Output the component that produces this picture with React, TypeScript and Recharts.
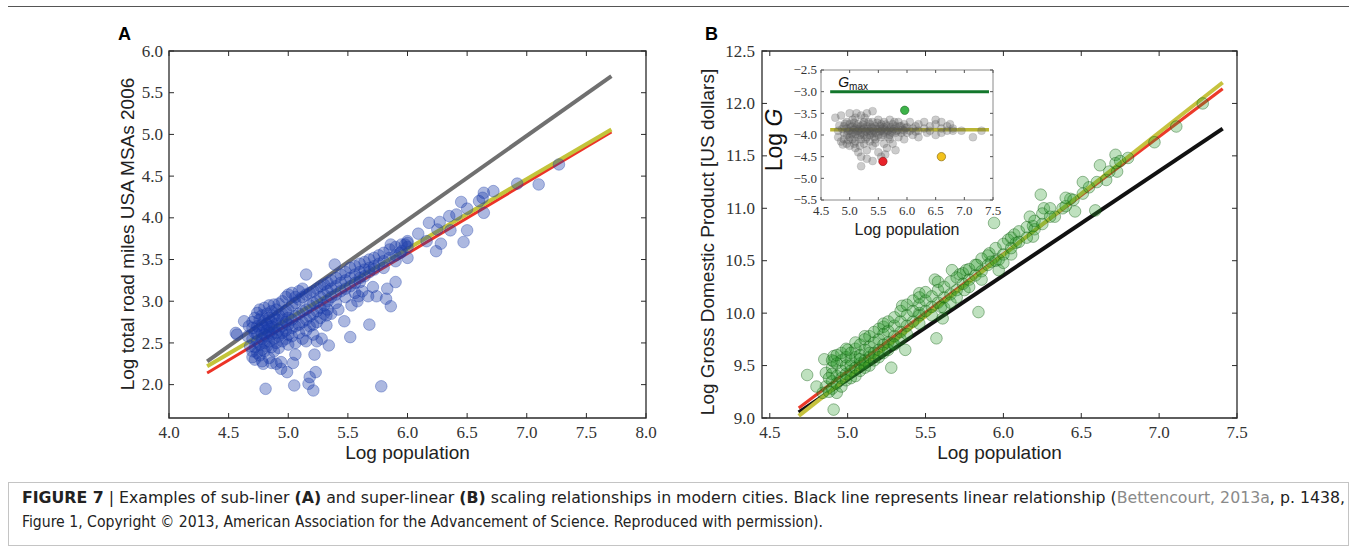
import React from 'react';
import { ScatterChart, Scatter, XAxis, YAxis, ReferenceLine, ReferenceArea } from 'recharts';

// ---------- DATA ----------
const roadTicksX = [4.0, 4.5, 5.0, 5.5, 6.0, 6.5, 7.0, 7.5, 8.0];
const roadTicksY = [2.0, 2.5, 3.0, 3.5, 4.0, 4.5, 5.0, 5.5, 6.0];
const gdpTicksX = [4.5, 5.0, 5.5, 6.0, 6.5, 7.0, 7.5];
const gdpTicksY = [9.0, 9.5, 10.0, 10.5, 11.0, 11.5, 12.0, 12.5];
const insetTicksX = [4.5, 5.0, 5.5, 6.0, 6.5, 7.0, 7.5];
const insetTicksY = [-5.5, -5.0, -4.5, -4.0, -3.5, -3.0, -2.5];

// Panel A: log road miles vs log population
const roadPoints: [number, number][] = [
  [7.27, 4.64], [7.10, 4.40], [6.92, 4.41], [6.72, 4.32], [6.64, 4.30], [6.63, 4.24], [6.64, 4.06], [6.60, 4.20],
  [6.50, 4.11], [6.45, 4.19], [6.50, 3.85], [6.47, 3.71], [6.41, 4.04], [6.35, 4.02], [6.27, 3.95], [6.18, 3.94],
  [6.24, 3.60], [6.28, 3.69], [6.25, 3.86], [6.36, 3.85], [6.09, 3.81], [6.16, 3.72], [6.00, 3.72], [5.98, 3.68],
  [6.00, 3.52], [5.94, 3.58], [5.86, 3.68], [5.90, 3.23], [5.83, 3.15], [5.86, 2.94], [5.82, 3.03], [5.78, 1.98],
  [5.68, 2.72], [5.74, 3.06], [5.67, 3.06], [5.71, 3.17], [5.59, 3.06], [5.60, 3.23], [5.52, 2.57], [5.47, 2.76],
  [5.53, 2.95], [5.39, 3.44], [5.34, 2.47], [5.28, 2.55], [5.22, 2.36], [5.23, 2.15], [5.18, 2.09], [5.17, 2.01],
  [5.21, 1.93], [5.05, 1.99], [4.99, 2.15], [4.94, 2.19], [5.04, 2.26], [5.06, 2.36], [4.81, 1.95], [4.86, 2.26],
  [4.79, 2.25], [4.94, 2.27], [5.15, 3.32], [4.63, 2.76], [4.56, 2.62], [4.57, 2.60], [5.32, 2.71], [5.36, 2.85],
  [5.32, 2.83], [4.66, 2.58], [4.68, 2.46], [4.67, 2.70], [5.42, 2.90], [5.58, 3.00], [5.62, 3.12],
  [4.70, 2.40], [4.70, 2.55], [4.70, 2.68], [4.70, 2.75], [4.70, 2.33],
  [4.72, 2.45], [4.72, 2.62], [4.72, 2.80], [4.72, 2.30],
  [4.74, 2.52], [4.74, 2.70], [4.74, 2.86], [4.74, 2.38], [4.74, 2.60],
  [4.76, 2.48], [4.76, 2.66], [4.76, 2.78], [4.76, 2.90], [4.76, 2.35],
  [4.78, 2.55], [4.78, 2.72], [4.78, 2.62], [4.78, 2.42], [4.78, 2.83], [4.78, 2.28],
  [4.80, 2.50], [4.80, 2.68], [4.80, 2.77], [4.80, 2.92], [4.80, 2.60], [4.80, 2.40],
  [4.82, 2.58], [4.82, 2.73], [4.82, 2.85], [4.82, 2.46], [4.82, 2.65],
  [4.84, 2.52], [4.84, 2.69], [4.84, 2.80], [4.84, 2.95], [4.84, 2.32], [4.84, 2.62],
  [4.86, 2.60], [4.86, 2.75], [4.86, 2.88], [4.86, 2.45], [4.86, 2.70],
  [4.88, 2.55], [4.88, 2.68], [4.88, 2.82], [4.88, 2.96], [4.88, 2.40],
  [4.90, 2.62], [4.90, 2.78], [4.90, 2.90], [4.90, 2.50], [4.90, 2.73], [4.90, 2.25],
  [4.92, 2.66], [4.92, 2.83], [4.92, 2.58], [4.92, 2.97], [4.92, 2.44],
  [4.95, 2.70], [4.95, 2.85], [4.95, 2.62], [4.95, 3.00], [4.95, 2.52], [4.95, 2.78],
  [4.98, 2.75], [4.98, 2.88], [4.98, 2.65], [4.98, 3.05], [4.98, 2.55],
  [5.00, 2.72], [5.00, 2.90], [5.00, 2.80], [5.00, 2.60], [5.00, 3.08], [5.00, 2.48],
  [5.03, 2.78], [5.03, 2.95], [5.03, 2.68], [5.03, 3.10], [5.03, 2.58],
  [5.06, 2.82], [5.06, 2.98], [5.06, 2.70], [5.06, 3.05], [5.06, 2.50],
  [5.09, 2.85], [5.09, 3.02], [5.09, 2.72], [5.09, 2.62], [5.09, 3.12],
  [5.12, 2.88], [5.12, 3.05], [5.12, 2.75], [5.12, 2.55], [5.12, 3.15],
  [5.15, 2.90], [5.15, 3.08], [5.15, 2.78], [5.15, 2.65], [5.15, 2.52],
  [5.18, 2.95], [5.18, 3.10], [5.18, 2.82], [5.18, 2.70],
  [5.21, 2.98], [5.21, 3.12], [5.21, 2.85], [5.21, 2.72], [5.21, 2.60],
  [5.24, 3.00], [5.24, 3.15], [5.24, 2.88], [5.24, 2.75], [5.24, 2.52],
  [5.27, 3.05], [5.27, 3.18], [5.27, 2.92], [5.27, 2.80],
  [5.30, 3.08], [5.30, 3.20], [5.30, 2.95], [5.30, 2.85],
  [5.33, 3.12], [5.33, 3.22], [5.33, 3.00], [5.33, 2.90],
  [5.36, 3.15], [5.36, 3.25], [5.36, 3.05],
  [5.40, 3.18], [5.40, 3.28], [5.40, 3.08], [5.40, 2.98],
  [5.44, 3.22], [5.44, 3.32], [5.44, 3.12],
  [5.48, 3.25], [5.48, 3.35], [5.48, 3.15], [5.48, 3.05],
  [5.52, 3.28], [5.52, 3.40], [5.52, 3.18],
  [5.56, 3.32], [5.56, 3.42], [5.56, 3.22], [5.56, 3.10],
  [5.60, 3.35], [5.60, 3.45], [5.60, 3.28],
  [5.64, 3.38], [5.64, 3.47], [5.64, 3.30],
  [5.68, 3.40], [5.68, 3.50], [5.68, 3.35],
  [5.72, 3.42], [5.72, 3.52], [5.72, 3.38],
  [5.76, 3.45], [5.76, 3.55],
  [5.80, 3.48], [5.80, 3.58], [5.80, 3.40],
  [5.85, 3.52], [5.85, 3.62],
  [5.90, 3.55], [5.90, 3.65], [5.90, 3.48],
  [5.95, 3.60], [5.95, 3.68],
  [6.00, 3.65], [6.00, 3.70],
];
const roadLinear: [number, number][] = [[4.32, 2.28], [7.71, 5.70]];
const roadFitRed: [number, number][] = [[4.32, 2.14], [7.71, 5.03]];
const roadFitYellow: [number, number][] = [[4.32, 2.22], [7.71, 5.06]];

// Panel B: log GDP vs log population
const gdpPoints: [number, number][] = [
  [7.28, 12.00], [7.11, 11.78], [6.97, 11.63], [6.72, 11.51], [6.62, 11.41], [6.73, 11.35], [6.66, 11.27], [6.72, 11.43],
  [6.59, 10.98], [6.51, 11.25], [6.51, 11.14], [6.43, 11.09], [6.38, 11.00], [6.46, 10.97], [6.33, 10.92], [6.24, 11.13],
  [6.26, 11.00], [6.19, 10.83], [6.19, 10.73], [6.17, 10.92], [6.07, 10.75], [6.03, 10.70], [6.08, 10.67], [5.94, 10.86],
  [5.97, 10.51], [6.05, 10.56], [5.97, 10.41], [5.91, 10.57], [5.92, 10.49], [5.84, 10.01], [5.83, 10.46], [5.76, 10.41],
  [5.75, 10.22], [5.67, 10.41], [5.72, 10.37], [5.57, 9.76], [5.61, 9.95], [5.60, 10.06], [5.56, 10.32], [5.46, 10.19],
  [5.46, 10.00], [5.37, 9.65], [5.35, 10.07], [5.28, 9.48], [5.29, 9.71], [5.23, 9.87], [5.11, 9.78], [5.10, 9.52],
  [5.00, 9.65], [4.91, 9.54], [4.85, 9.56], [4.86, 9.43], [4.91, 9.59], [4.74, 9.41], [4.86, 9.30], [4.91, 9.08],
  [4.84, 9.24], [4.93, 9.24],
  [4.90, 9.35], [4.90, 9.48], [4.90, 9.55], [4.90, 9.28], [4.90, 9.42],
  [4.93, 9.40], [4.93, 9.52], [4.93, 9.33], [4.93, 9.60],
  [4.96, 9.38], [4.96, 9.45], [4.96, 9.55], [4.96, 9.62], [4.96, 9.30],
  [4.99, 9.42], [4.99, 9.50], [4.99, 9.58], [4.99, 9.36], [4.99, 9.66],
  [5.02, 9.45], [5.02, 9.55], [5.02, 9.62], [5.02, 9.38], [5.02, 9.50],
  [5.05, 9.48], [5.05, 9.58], [5.05, 9.66], [5.05, 9.40], [5.05, 9.72],
  [5.08, 9.52], [5.08, 9.60], [5.08, 9.70], [5.08, 9.45], [5.08, 9.56],
  [5.11, 9.55], [5.11, 9.65], [5.11, 9.75], [5.11, 9.48],
  [5.14, 9.58], [5.14, 9.68], [5.14, 9.78], [5.14, 9.50], [5.14, 9.62],
  [5.17, 9.62], [5.17, 9.72], [5.17, 9.82], [5.17, 9.55],
  [5.20, 9.65], [5.20, 9.75], [5.20, 9.85], [5.20, 9.58],
  [5.23, 9.70], [5.23, 9.80], [5.23, 9.90], [5.23, 9.62],
  [5.26, 9.72], [5.26, 9.83], [5.26, 9.92], [5.26, 9.65],
  [5.30, 9.78], [5.30, 9.88], [5.30, 9.96], [5.30, 9.70],
  [5.34, 9.82], [5.34, 9.92], [5.34, 10.02], [5.34, 9.75],
  [5.38, 9.88], [5.38, 9.98], [5.38, 10.08], [5.38, 9.80],
  [5.42, 9.92], [5.42, 10.02], [5.42, 10.12],
  [5.46, 9.98], [5.46, 10.08], [5.46, 10.15], [5.46, 9.90],
  [5.50, 10.02], [5.50, 10.12], [5.50, 10.20],
  [5.54, 10.06], [5.54, 10.16], [5.54, 9.98],
  [5.58, 10.10], [5.58, 10.22], [5.58, 10.30],
  [5.62, 10.15], [5.62, 10.25], [5.62, 10.05],
  [5.66, 10.18], [5.66, 10.30], [5.66, 10.10],
  [5.70, 10.22], [5.70, 10.34], [5.70, 10.15],
  [5.74, 10.28], [5.74, 10.38],
  [5.78, 10.32], [5.78, 10.42], [5.78, 10.25],
  [5.82, 10.36], [5.82, 10.46],
  [5.86, 10.40], [5.86, 10.52], [5.86, 10.32],
  [5.90, 10.46], [5.90, 10.55],
  [5.95, 10.50], [5.95, 10.62],
  [6.00, 10.56], [6.00, 10.66], [6.00, 10.48],
  [6.05, 10.62], [6.05, 10.72],
  [6.10, 10.68], [6.10, 10.78],
  [6.15, 10.72], [6.15, 10.82],
  [6.20, 10.80], [6.20, 10.88],
  [6.25, 10.85], [6.25, 10.95],
  [6.30, 10.92], [6.30, 11.00],
  [6.40, 11.02], [6.40, 11.10],
  [6.45, 11.08], [6.55, 11.20], [6.60, 11.25], [6.68, 11.35], [6.75, 11.45], [6.80, 11.48],
  [4.88, 9.25], [4.88, 9.38], [4.80, 9.30],
];
const gdpLinear: [number, number][] = [[4.686, 9.054], [7.408, 11.76]];
const gdpFitRed: [number, number][] = [[4.686, 9.095], [7.408, 12.14]];
const gdpFitYellow: [number, number][] = [[4.686, 9.02], [7.408, 12.20]];

// Inset: log G vs log population
const insetPoints: [number, number][] = [
  [4.75, -3.60], [4.80, -3.90], [4.80, -4.05], [4.85, -3.55], [4.85, -4.15], [4.90, -3.80], [4.90, -3.95], [4.90, -4.10],
  [4.95, -3.70], [4.95, -3.85], [4.95, -4.00], [4.95, -4.20], [5.00, -3.50], [5.00, -3.75], [5.00, -3.90], [5.00, -4.05],
  [5.00, -4.25], [5.05, -3.80], [5.05, -3.95], [5.05, -4.10], [5.05, -3.65], [5.10, -3.85], [5.10, -3.98], [5.10, -4.15],
  [5.10, -3.60], [5.10, -4.30], [5.15, -3.75], [5.15, -3.90], [5.15, -4.05], [5.15, -4.40], [5.20, -3.55], [5.20, -3.80],
  [5.20, -3.95], [5.20, -4.10], [5.20, -4.50], [5.20, -4.72], [5.25, -3.70], [5.25, -3.85], [5.25, -4.00], [5.25, -4.20],
  [5.30, -3.50], [5.30, -3.80], [5.30, -3.92], [5.30, -4.05], [5.30, -4.35], [5.30, -4.55], [5.35, -3.75], [5.35, -3.90],
  [5.35, -4.00], [5.35, -4.15], [5.40, -3.45], [5.40, -3.70], [5.40, -3.85], [5.40, -3.97], [5.40, -4.25], [5.40, -4.60],
  [5.45, -3.80], [5.45, -3.95], [5.45, -4.10], [5.50, -3.65], [5.50, -3.85], [5.50, -4.00], [5.50, -4.40], [5.55, -3.75],
  [5.55, -3.90], [5.55, -4.05], [5.55, -4.50], [5.60, -3.70], [5.60, -3.82], [5.60, -3.95], [5.60, -4.20], [5.65, -3.80],
  [5.65, -3.92], [5.65, -4.30], [5.70, -3.65], [5.70, -3.85], [5.70, -4.00], [5.70, -4.10], [5.75, -3.75], [5.75, -3.90],
  [5.75, -4.20], [5.80, -3.80], [5.80, -3.95], [5.80, -4.35], [5.85, -3.70], [5.85, -3.88], [5.85, -4.05], [5.90, -3.80],
  [5.90, -3.95], [5.95, -3.75], [5.95, -3.90], [5.95, -4.10], [6.00, -3.82], [6.00, -3.95], [6.05, -3.70], [6.05, -3.90],
  [6.10, -3.85], [6.10, -4.00], [6.15, -3.80], [6.15, -3.92], [6.20, -3.75], [6.20, -3.90], [6.20, -4.05], [6.30, -3.70],
  [6.30, -3.85], [6.35, -3.95], [6.40, -3.80], [6.40, -3.90], [6.50, -3.75], [6.50, -4.00], [6.50, -3.65], [6.60, -3.85],
  [6.60, -3.95], [6.60, -3.70], [6.70, -3.80], [6.70, -3.90], [6.75, -3.75], [6.80, -3.90], [6.80, -3.85], [6.95, -3.90],
  [7.15, -4.05], [7.30, -3.90],
  [4.82, -3.78], [4.87, -3.86], [4.92, -3.74], [4.97, -3.92], [5.02, -3.82], [5.03, -3.98], [5.07, -3.88], [5.08, -3.72],
  [5.12, -3.92], [5.13, -3.80], [5.17, -3.86], [5.18, -4.00], [5.22, -3.88], [5.23, -3.76], [5.27, -3.92], [5.28, -4.10],
  [5.32, -3.86], [5.33, -3.70], [5.37, -3.95], [5.38, -3.82], [5.42, -3.90], [5.43, -4.05], [5.47, -3.86], [5.48, -3.72],
  [5.52, -3.92], [5.53, -3.80], [5.57, -3.86], [5.58, -4.00], [5.62, -3.88], [5.63, -3.76], [5.67, -3.90], [5.68, -4.05],
  [5.72, -3.82], [5.73, -3.94], [5.77, -3.86], [5.78, -3.70], [5.82, -3.90], [5.87, -3.80], [5.92, -3.88], [5.97, -3.84],
  [4.98, -4.12], [5.08, -4.20], [5.18, -4.25], [5.12, -3.50], [5.26, -3.60], [4.88, -4.22], [5.45, -4.18], [5.62, -4.45],
];
const insetGreenCity: [number, number][] = [[5.96, -3.43]];
const insetRedCity: [number, number][] = [[5.58, -4.61]];
const insetYellowCity: [number, number][] = [[6.60, -4.50]];
const insetGmax: [number, number][] = [[4.66, -3.0], [7.43, -3.0]];
const insetMean: [number, number][] = [[4.66, -3.876], [7.43, -3.876]];

// ---------- STYLE ----------
const SERIF = "'Liberation Serif','DejaVu Serif',serif";
const SANS = "'Liberation Sans',Arial,Helvetica,sans-serif";
const NARROW = "'Liberation Sans Narrow','DejaVu Sans Condensed','Liberation Sans',sans-serif";
const AXIS = '#2a2a2a';

const toObj = (arr: [number, number][]) => arr.map(([x, y]) => ({ x, y }));
const seg = (arr: [number, number][]) => arr.map(([x, y]) => ({ x, y }));
const fmt = (v: number) => v.toFixed(1).replace('-', '\u2212');

type TickOpts = { far: number; len: number; gap: number; size: number; color: string };

const makeBottomTick = (o: TickOpts) => (props: any) => {
  const { x, y, payload } = props;
  return (
    <g>
      <line x1={x} x2={x} y1={y} y2={y - o.len} stroke={o.color} strokeWidth={1} />
      <line x1={x} x2={x} y1={o.far} y2={o.far + o.len} stroke={o.color} strokeWidth={1} />
      <text x={x} y={y + o.gap} textAnchor="middle" style={{ fontFamily: SERIF }} fontSize={o.size} fill="#333">
        {fmt(payload.value)}
      </text>
    </g>
  );
};

const makeLeftTick = (o: TickOpts) => (props: any) => {
  const { x, y, payload } = props;
  return (
    <g>
      <line x1={x} x2={x + o.len} y1={y} y2={y} stroke={o.color} strokeWidth={1} />
      <line x1={o.far} x2={o.far - o.len} y1={y} y2={y} stroke={o.color} strokeWidth={1} />
      <text x={x - o.gap} y={y + o.size * 0.33} textAnchor="end" style={{ fontFamily: SERIF }} fontSize={o.size} fill="#333">
        {fmt(payload.value)}
      </text>
    </g>
  );
};

const dot = (r: number, fill: string, fo: number, stroke: string, so: number, sw: number) => (p: any) =>
  <circle cx={p.cx} cy={p.cy} r={r} fill={fill} fillOpacity={fo} stroke={stroke} strokeOpacity={so} strokeWidth={sw} />;

// ---------- PANEL A ----------
// chart local: plot left 169, right 646, top 51, bottom 418
const ChartA = () => (
  <ScatterChart width={700} height={470} margin={{ top: 51, left: 109, right: 54, bottom: 22 }}>
    <XAxis type="number" dataKey="x" domain={[4, 8]} ticks={roadTicksX} interval={0} allowDataOverflow
      height={30} tickSize={0} tickMargin={0} axisLine={false} tickLine={false}
      tick={makeBottomTick({ far: 51, len: 5, gap: 20, size: 17, color: AXIS })}
      label={{ content: (p: any) => {
        const vb = p.viewBox;
        return <text x={vb.x + vb.width / 2} y={459} textAnchor="middle" style={{ fontFamily: SANS }} fontSize={19} fill="#222">Log population</text>;
      } }} />
    <YAxis type="number" dataKey="y" domain={[1.6, 6.0]} ticks={roadTicksY} interval={0} allowDataOverflow
      width={60} tickSize={0} tickMargin={0} axisLine={false} tickLine={false}
      tick={makeLeftTick({ far: 646, len: 5, gap: 6, size: 17, color: AXIS })}
      label={{ content: () => {
        const cy = 234;
        return <text x={134} y={cy} transform={`rotate(-90 134 ${cy})`} textAnchor="middle" style={{ fontFamily: SANS }} fontSize={19} fill="#222">Log total road miles USA MSAs 2006</text>;
      } }} />
    <Scatter data={toObj(roadPoints)} isAnimationActive={false}
      shape={dot(5.8, '#1a3aa8', 0.36, '#1a3aa8', 0.45, 0.8)} />
    <ReferenceLine segment={seg(roadLinear)} stroke="#707070" strokeWidth={4} ifOverflow="visible" />
    <ReferenceLine segment={seg(roadFitRed)} stroke="#ec3326" strokeWidth={3} ifOverflow="visible" />
    <ReferenceLine segment={seg(roadFitYellow)} stroke="#c3c43a" strokeWidth={4} ifOverflow="visible" />
    <ReferenceArea x1={4} x2={8} y1={1.6} y2={6.0} fill="none" fillOpacity={0} stroke={AXIS} strokeWidth={1.3} ifOverflow="visible" />
  </ScatterChart>
);

// ---------- PANEL B ----------
// chart local (offset 690): plot left 72, right 547, top 51, bottom 418
const ChartB = () => (
  <ScatterChart width={600} height={470} margin={{ top: 51, left: 12, right: 53, bottom: 22 }}>
    <XAxis type="number" dataKey="x" domain={[4.45, 7.5]} ticks={gdpTicksX} interval={0} allowDataOverflow
      height={30} tickSize={0} tickMargin={0} axisLine={false} tickLine={false}
      tick={makeBottomTick({ far: 51, len: 5, gap: 20, size: 17, color: AXIS })}
      label={{ content: (p: any) => {
        const vb = p.viewBox;
        return <text x={vb.x + vb.width / 2} y={459} textAnchor="middle" style={{ fontFamily: SANS }} fontSize={19} fill="#222">Log population</text>;
      } }} />
    <YAxis type="number" dataKey="y" domain={[9.0, 12.5]} ticks={gdpTicksY} interval={0} allowDataOverflow
      width={60} tickSize={0} tickMargin={0} axisLine={false} tickLine={false}
      tick={makeLeftTick({ far: 547, len: 5, gap: 7, size: 17, color: AXIS })}
      label={{ content: () => {
        const cy = 242;
        return <text x={24} y={cy} transform={`rotate(-90 24 ${cy})`} textAnchor="middle" style={{ fontFamily: SANS }} fontSize={19} fill="#222">Log Gross Domestic Product [US dollars]</text>;
      } }} />
    <Scatter data={toObj(gdpPoints)} isAnimationActive={false}
      shape={dot(5.8, '#2a9a2a', 0.3, '#0b5a0b', 0.4, 1)} />
    <ReferenceLine segment={seg(gdpLinear)} stroke="#111111" strokeWidth={4} ifOverflow="visible" />
    <ReferenceLine segment={seg(gdpFitRed)} stroke="#ec3a2a" strokeWidth={3.2} ifOverflow="visible" />
    <ReferenceLine segment={seg(gdpFitYellow)} stroke="#c6c23e" strokeWidth={4} ifOverflow="visible" />
    <ReferenceArea x1={4.45} x2={7.5} y1={9.0} y2={12.5} fill="none" fillOpacity={0} stroke={AXIS} strokeWidth={1.3} ifOverflow="visible" />
  </ScatterChart>
);

// ---------- INSET ----------
// chart local (offset 740,40): plot left 81, right 253, top 30, bottom 160
const Inset = () => (
  <ScatterChart width={270} height={210} margin={{ top: 30, left: 41, right: 17, bottom: 30 }}>
    <XAxis type="number" dataKey="x" domain={[4.5, 7.5]} ticks={insetTicksX} interval={0} allowDataOverflow
      height={20} tickSize={0} tickMargin={0} axisLine={false} tickLine={false}
      tick={makeBottomTick({ far: 30, len: 3, gap: 15, size: 13, color: '#555' })}
      label={{ content: (p: any) => {
        const vb = p.viewBox;
        return <text x={vb.x + vb.width / 2} y={195} textAnchor="middle" style={{ fontFamily: SANS }} fontSize={16} fill="#222">Log population</text>;
      } }} />
    <YAxis type="number" dataKey="y" domain={[-5.5, -2.5]} ticks={insetTicksY} interval={0} allowDataOverflow
      width={40} tickSize={0} tickMargin={0} axisLine={false} tickLine={false}
      tick={makeLeftTick({ far: 253, len: 3, gap: 4, size: 13, color: '#555' })}
      label={{ content: () => {
        const cy = 100;
        return (
          <text x={42} y={cy} transform={`rotate(-90 42 ${cy})`} textAnchor="middle" style={{ fontFamily: SANS }} fontSize={23} fill="#111">
            Log <tspan fontStyle="italic">G</tspan>
          </text>
        );
      } }} />
    <ReferenceArea x1={4.5} x2={7.5} y1={-5.5} y2={-2.5} fill="#ffffff" fillOpacity={1} stroke="none" ifOverflow="visible" />
    <Scatter data={toObj(insetPoints)} isAnimationActive={false}
      shape={dot(4, '#555555', 0.3, '#555555', 0.3, 0.5)} />
    <ReferenceLine segment={seg(insetGmax)} stroke="#13772c" strokeWidth={3} ifOverflow="visible"
      label={{ content: (p: any) => {
        const vb = p.viewBox || {};
        return (
          <text x={(vb.x ?? 89) + 8} y={(vb.y ?? 51) - 5} style={{ fontFamily: SANS }} fontSize={14} fill="#111">
            <tspan fontStyle="italic">G</tspan><tspan fontSize={10} dy={3}>max</tspan>
          </text>
        );
      } }} />
    <ReferenceLine segment={seg(insetMean)} stroke="#b9b534" strokeWidth={3.5} ifOverflow="visible" />
    <Scatter data={toObj(insetGreenCity)} isAnimationActive={false} shape={dot(4.2, '#3db349', 1, '#1d6b25', 1, 0.6)} />
    <Scatter data={toObj(insetRedCity)} isAnimationActive={false} shape={dot(4.2, '#e8232a', 1, '#8a1010', 1, 0.6)} />
    <Scatter data={toObj(insetYellowCity)} isAnimationActive={false} shape={dot(4.2, '#f2c21c', 1, '#7a5a00', 1, 0.6)} />
    <ReferenceArea x1={4.5} x2={7.5} y1={-5.5} y2={-2.5} fill="none" fillOpacity={0} stroke="#8a8a8a" strokeWidth={1} ifOverflow="visible" />
  </ScatterChart>
);

export default function App() {
  return (
    <div style={{ position: 'absolute', left: 0, top: 0, width: 1357, height: 552, background: '#fff', overflow: 'hidden' }}>
      <svg width={1357} height={552} style={{ position: 'absolute', left: 0, top: 0 }}>
        <line x1={8} x2={1349} y1={6.5} y2={6.5} stroke="#555" strokeWidth={1} />
        <text x={118} y={40} style={{ fontFamily: SANS }} fontWeight="bold" fontSize={18} fill="#000">A</text>
        <text x={705} y={40} style={{ fontFamily: SANS }} fontWeight="bold" fontSize={18} fill="#000">B</text>
        <rect x={8.5} y={482.5} width={1340} height={63} fill="none" stroke="#c4c4c4" strokeWidth={1} />
        <text x={22} y={503} style={{ fontFamily: NARROW }} fontSize={15} fill="#222" textLength={1323} lengthAdjust="spacingAndGlyphs">
          <tspan fontWeight="bold">FIGURE 7</tspan>
          {' | Examples of sub-liner '}
          <tspan fontWeight="bold">(A)</tspan>
          {' and super-linear '}
          <tspan fontWeight="bold">(B)</tspan>
          {' scaling relationships in modern cities. Black line represents linear relationship ('}
          <tspan fill="#8a8a8a">Bettencourt, 2013a</tspan>
          {', p. 1438,'}
        </text>
        <text x={22} y={527} style={{ fontFamily: NARROW }} fontSize={15} fill="#222" textLength={801} lengthAdjust="spacingAndGlyphs">
          Figure 1, Copyright © 2013, American Association for the Advancement of Science. Reproduced with permission).
        </text>
      </svg>
      <div style={{ position: 'absolute', left: 0, top: 0 }}><ChartA /></div>
      <div style={{ position: 'absolute', left: 690, top: 0 }}><ChartB /></div>
      <div style={{ position: 'absolute', left: 740, top: 40 }}><Inset /></div>
    </div>
  );
}
